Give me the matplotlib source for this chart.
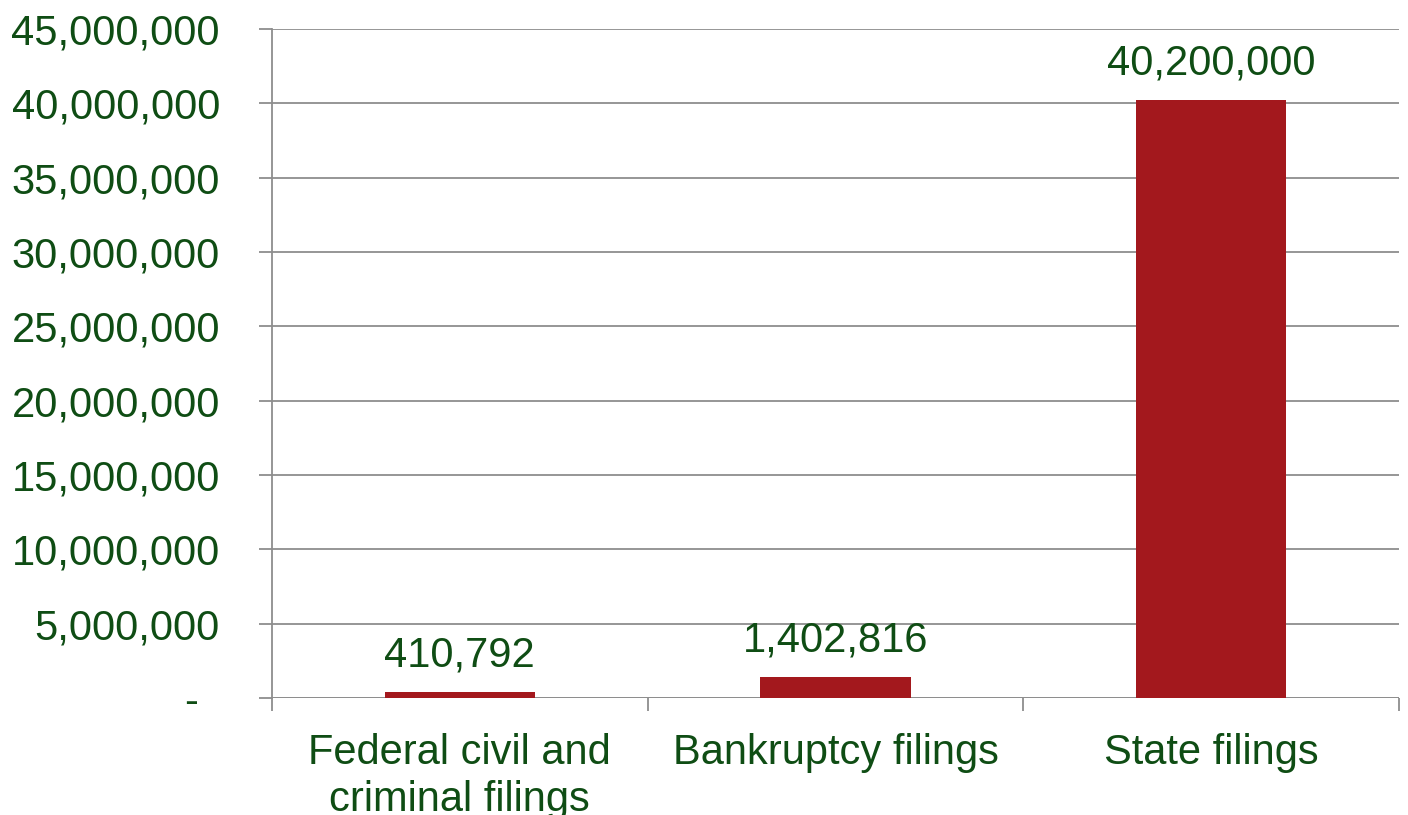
import matplotlib
matplotlib.use("Agg")
import matplotlib.pyplot as plt
from matplotlib.ticker import FixedLocator, FuncFormatter

categories = ["Federal civil and\ncriminal filings", "Bankruptcy filings", "State filings"]
values = [410792, 1402816, 40200000]
y_ticks = [0, 5000000, 10000000, 15000000, 20000000, 25000000, 30000000, 35000000, 40000000, 45000000]

TEXT = "#0f4d14"
BAR = "#A3181D"
GRID = "#8e8e8e"

plt.rcParams['font.family'] = ['Liberation Sans', 'DejaVu Sans']

fig = plt.figure(figsize=(14.08, 8.15), dpi=100)
ax = fig.add_axes([272/1408, (815-698)/815, (1399-272)/1408, (698-29)/815])

x = list(range(len(categories)))
ax.bar(x, values, width=0.4, color=BAR, zorder=3)

ax.set_xlim(-0.5, len(categories) - 0.5)
ax.set_ylim(0, 45000000)

ax.yaxis.set_major_locator(FixedLocator(y_ticks))
ax.yaxis.set_major_formatter(FuncFormatter(lambda v, p: "" if v == 0 else f"{int(v):,}"))
ax.grid(axis='y', color=GRID, linewidth=1.3, zorder=0)

for s in ['top', 'right', 'bottom']:
    ax.spines[s].set_visible(False)
ax.spines['left'].set_color(GRID)
ax.spines['left'].set_linewidth(1.3)

ax.tick_params(axis='y', which='major', length=9.5, width=1.3, color=GRID, pad=28,
               labelsize=30, labelcolor=TEXT)

# zero label drawn as a dash, offset like the accounting format
ax.annotate("-", xy=(0, y_ticks[0]), xycoords=('axes fraction', 'data'),
            xytext=(-53, 0), textcoords='offset points',
            ha='right', va='center_baseline', fontsize=30, color=TEXT)

# x: boundaries as ticks, labels at centers
ax.xaxis.set_major_locator(FixedLocator([i - 0.5 for i in range(len(categories) + 1)]))
ax.xaxis.set_major_formatter(FuncFormatter(lambda v, p: ""))
ax.xaxis.set_minor_locator(FixedLocator(x))
ax.set_xticklabels(categories, minor=True)
ax.tick_params(axis='x', which='major', length=9, width=1.3, color=GRID)
ax.tick_params(axis='x', which='minor', length=0, pad=25, labelsize=30, labelcolor=TEXT)
for lbl in ax.get_xticklabels(minor=True):
    lbl.set_linespacing(1.22)
    lbl.set_va('top')

# zero line across the bottom
ax.axhline(0, color=GRID, linewidth=1.3, zorder=2)

for xi, v in zip(x, values):
    ax.annotate(f"{v:,}", xy=(xi, v), xytext=(0, 18.5), textcoords='offset points',
                ha='center', va='baseline', fontsize=30, color=TEXT)

fig.savefig("out.png", dpi=100)
